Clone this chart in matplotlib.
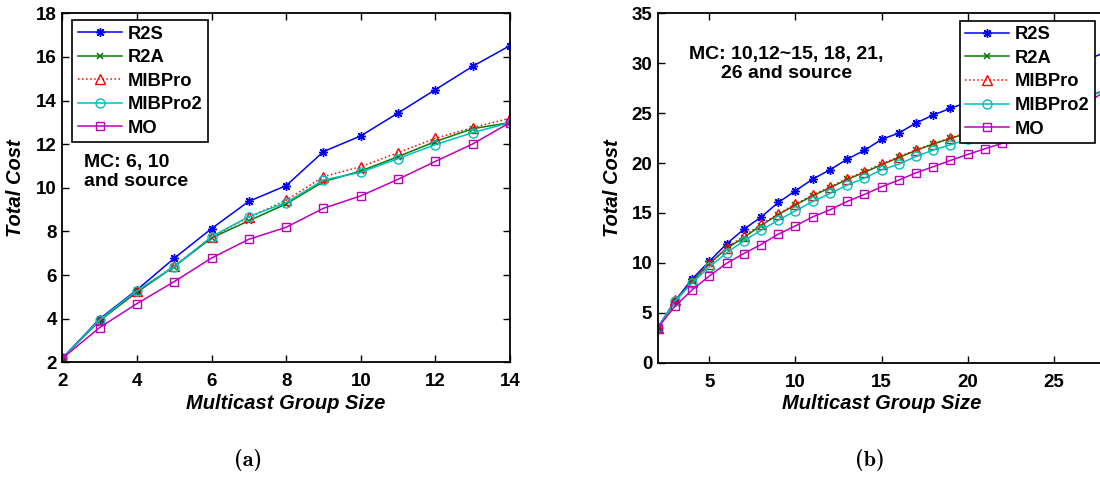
import matplotlib
matplotlib.use("Agg")
import matplotlib.pyplot as plt

# ---------------- data ----------------
x_a = list(range(2, 15))
r2s_a = [2.18, 3.99, 5.32, 6.77, 8.13, 9.38, 10.10, 11.66, 12.38, 13.43, 14.50, 15.57, 16.52]
r2a_a = [2.18, 3.91, 5.21, 6.39, 7.70, 8.49, 9.26, 10.28, 10.77, 11.43, 12.12, 12.71, 12.99]
mib_a = [2.18, 3.95, 5.25, 6.42, 7.73, 8.65, 9.43, 10.51, 10.97, 11.61, 12.27, 12.76, 13.19]
mib2_a = [2.18, 3.95, 5.28, 6.39, 7.76, 8.68, 9.32, 10.36, 10.71, 11.34, 11.98, 12.53, 12.99]
mo_a = [2.18, 3.59, 4.69, 5.70, 6.78, 7.64, 8.19, 9.06, 9.63, 10.39, 11.21, 12.01, 12.99]

x_b = list(range(2, 29))
r2s_b = [3.48, 6.19, 8.39, 10.16, 11.90, 13.37, 14.58, 16.05, 17.22, 18.39, 19.32, 20.39, 21.26,
         22.37, 23.00, 24.01, 24.81, 25.48, 26.1, 26.7, 27.3, 27.9, 28.5, 29.1, 29.7, 30.4, 31.1]
r2a_b = [3.48, 6.08, 8.16, 9.93, 11.43, 12.54, 13.74, 14.84, 15.81, 16.72, 17.52, 18.36, 19.06,
         19.83, 20.56, 21.26, 21.90, 22.47, 23.0, 23.5, 24.0, 24.5, 25.0, 25.5, 26.0, 26.7, 27.3]
mib_b = [3.48, 6.25, 8.10, 9.90, 11.50, 12.70, 13.85, 14.90, 15.90, 16.80, 17.60, 18.45, 19.15,
         19.92, 20.62, 21.32, 21.95, 22.52, 23.05, 23.55, 24.05, 24.55, 25.05, 25.55, 26.05, 26.75, 27.35]
mib2_b = [3.48, 6.19, 7.99, 9.60, 11.00, 12.20, 13.27, 14.28, 15.21, 16.15, 16.95, 17.79, 18.49,
          19.32, 19.89, 20.66, 21.30, 21.83, 22.4, 23.0, 23.6, 24.2, 24.8, 25.4, 25.9, 26.6, 27.3]
mo_b = [3.48, 5.65, 7.29, 8.69, 9.96, 10.93, 11.84, 12.87, 13.71, 14.61, 15.31, 16.15, 16.85,
        17.62, 18.29, 19.02, 19.63, 20.26, 20.86, 21.43, 21.97, 22.6, 23.3, 24.0, 24.9, 26.1, 27.2]

labels = ["R2S", "R2A", "MIBPro", "MIBPro2", "MO"]
xticks_a = [2, 4, 6, 8, 10, 12, 14]
yticks_a = [2, 4, 6, 8, 10, 12, 14, 16, 18]
xticks_b = [5, 10, 15, 20, 25]
yticks_b = [0, 5, 10, 15, 20, 25, 30, 35]

# ---------------- style ----------------
plt.rcParams['font.family'] = ['Liberation Sans', 'DejaVu Sans']
plt.rcParams['font.weight'] = 'bold'

styles = [
    dict(color=(0, 0, 1), marker=(8, 2, 0), linestyle='-', markersize=6.5, linewidth=1.1,
         markeredgewidth=1.0),
    dict(color=(0, 0.5, 0), marker='x', linestyle='-', markersize=4, linewidth=1.1, markeredgewidth=1.1),
    dict(color=(1, 0, 0), marker='^', linestyle=':', markersize=6.5, linewidth=1.1,
         markerfacecolor='none'),
    dict(color=(0, 0.75, 0.75), marker='o', linestyle='-', markersize=6.5, linewidth=1.1,
         markerfacecolor='none'),
    dict(color=(0.75, 0, 0.75), marker='s', linestyle='-', markersize=5.5, linewidth=1.1,
         markerfacecolor='none'),
]

W, H = 1100, 478
fig = plt.figure(figsize=(W / 100, H / 100), dpi=100)


def pos(l, r, t, b):
    return [l / W, 1 - b / H, (r - l) / W, (b - t) / H]


def style_axes(ax, right=True):
    for s in ax.spines.values():
        s.set_linewidth(1.3)
    ax.tick_params(direction='in', top=True, right=right, length=5, width=1.0,
                   labelsize=13.5)
    ax.tick_params(axis='x', pad=8)
    ax.tick_params(axis='y', pad=4)
    for lab in ax.get_xticklabels() + ax.get_yticklabels():
        lab.set_fontweight('bold')
    ax.set_xlabel("Multicast Group Size", fontsize=14.5, fontweight='bold', style='italic',
                  labelpad=0)
    ax.set_ylabel("Total Cost", fontsize=14.5, fontweight='bold', style='italic')


def draw_legend(ax, anchor):
    leg = ax.legend(labels, loc='upper left', bbox_to_anchor=anchor, borderaxespad=0,
                    fancybox=False, framealpha=1, edgecolor='black',
                    handlelength=2.4, handletextpad=0.3, labelspacing=0.36,
                    borderpad=0.3, prop=dict(weight='bold', size=13.2))
    leg.get_frame().set_linewidth(1.2)
    return leg


# ---------------- panel (a) ----------------
ax1 = fig.add_axes(pos(62.3, 510, 13.3, 362.3))
for y, st in zip([r2s_a, r2a_a, mib_a, mib2_a, mo_a], styles):
    ax1.plot(x_a, y, **st)
ax1.set_xlim(2, 14)
ax1.set_ylim(2, 18)
ax1.set_xticks(xticks_a)
ax1.set_yticks(yticks_a)
style_axes(ax1)
ax1.xaxis.set_label_coords(0.5, -0.09)
ax1.yaxis.set_label_coords(-0.083, 0.5)
draw_legend(ax1, (0.0223, 0.9808))
ax1.text(0.048, 0.545, "MC: 6, 10\nand source", transform=ax1.transAxes, fontsize=14,
         fontweight='bold', ha='left', va='center', linespacing=1.2)

# ---------------- panel (b) ----------------
ax2 = fig.add_axes(pos(657.7, 1105.4, 13.3, 362.7))
for y, st in zip([r2s_b, r2a_b, mib_b, mib2_b, mo_b], styles):
    ax2.plot(x_b, y, **st)
ax2.set_xlim(2, 28)
ax2.set_ylim(0, 35)
ax2.set_xticks(xticks_b)
ax2.set_yticks(yticks_b)
style_axes(ax2, right=False)
ax2.xaxis.set_label_coords(0.5, -0.09)
ax2.yaxis.set_label_coords(-0.08, 0.5)
draw_legend(ax2, (0.675, 0.9788))
ax2.text(0.287, 0.855, "MC: 10,12~15, 18, 21,\n26 and source", transform=ax2.transAxes,
         fontsize=14, fontweight='bold', ha='center', va='center', linespacing=1.2)

# ---------------- sub-captions ----------------
fig.text(248 / W, 1 - 460 / H, "(a)", fontsize=16, family=['cmb10', 'DejaVu Serif'],
         fontweight='bold', ha='center', va='center')
fig.text(870 / W, 1 - 460 / H, "(b)", fontsize=16, family=['cmb10', 'DejaVu Serif'],
         fontweight='bold', ha='center', va='center')

fig.savefig("out.png", dpi=100)
